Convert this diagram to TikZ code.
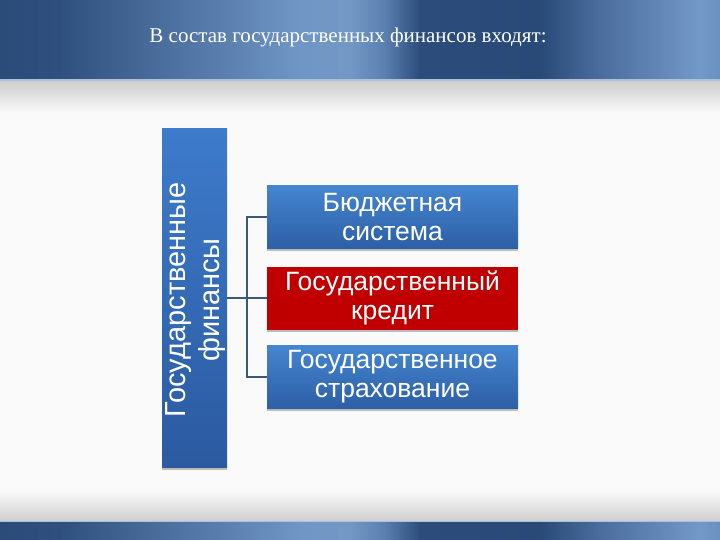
\documentclass[tikz,border=0pt]{standalone}
\usepackage{fontspec}
\setmainfont{Liberation Sans}
\newfontfamily\titlefont{Liberation Serif}
\usetikzlibrary{shadows}
\definecolor{bgc}{HTML}{FAFAFA}
\definecolor{s0}{HTML}{2B4B79}
\definecolor{s1}{HTML}{2F507F}
\definecolor{s2}{HTML}{6F96C5}
\definecolor{s3}{HTML}{7398C6}
\definecolor{s4}{HTML}{5A80B0}
\definecolor{s5}{HTML}{2C4D7C}
\definecolor{s6}{HTML}{294A77}
\definecolor{s7}{HTML}{4A6D9E}
\definecolor{s8}{HTML}{7399C8}
\definecolor{s9}{HTML}{6A90C0}
\definecolor{blueTop}{HTML}{4585D0}
\definecolor{blueBot}{HTML}{2C5FA6}
\definecolor{mainTop}{HTML}{3D7BCB}
\definecolor{mainBot}{HTML}{2B5AA0}
\definecolor{redBox}{HTML}{C00000}
\definecolor{connc}{HTML}{3A5878}
\tikzset{
  band/.pic={
    \shade[left color=s0,right color=s1] (0,0) rectangle (60,1);
    \shade[left color=s1,right color=s2] (59.5,0) rectangle (300,1);
    \shade[left color=s2,right color=s3] (299.5,0) rectangle (350,1);
    \shade[left color=s3,right color=s4] (349.5,0) rectangle (385,1);
    \shade[left color=s4,right color=s5] (384.5,0) rectangle (420,1);
    \shade[left color=s5,right color=s6] (419.5,0) rectangle (540,1);
    \shade[left color=s6,right color=s7] (539.5,0) rectangle (600,1);
    \shade[left color=s7,right color=s8] (599.5,0) rectangle (700,1);
    \shade[left color=s8,right color=s9] (699.5,0) rectangle (720,1);
  },
  boxshadow/.style={drop shadow={shadow xshift=0pt, shadow yshift=-2.5pt, opacity=0.25, fill=black}},
  childbox/.style={draw=none, minimum width=251pt, minimum height=63pt,
    inner sep=0pt, align=center, text=white,
    font=\fontsize{26.5}{29}\selectfont, boxshadow},
  bluebox/.style={childbox, top color=blueTop, bottom color=blueBot},
  redbox/.style={childbox, fill=redBox},
  mainbox/.style={draw=none, minimum width=65pt, minimum height=338pt,
    inner sep=0pt, top color=mainTop, bottom color=mainBot, boxshadow},
  maintext/.style={rotate=90, inner sep=0pt, align=center, text=white,
    font=\fontsize{29}{34}\selectfont},
  conn/.style={draw=connc, line width=1.6pt}
}
\begin{document}
\begin{tikzpicture}[x=1pt,y=-1pt]
\useasboundingbox (0,0) rectangle (720,540);
\fill[bgc] (0,0) rectangle (720,540);
% top band
\pic[yscale=80] at (0,0) {band};
\shade[top color=black!20, bottom color=bgc] (0,80) rectangle (720,113);
\fill[s3!60!white] (0,79.5) rectangle (720,81);
% bottom band
\shade[top color=bgc, bottom color=black!19] (0,490) rectangle (720,521);
\fill[s3!60!white] (0,520.5) rectangle (720,522);
\pic[yscale=18] at (0,522) {band};
% title
\node[text=white, font=\titlefont\fontsize{21}{25}\selectfont] (title) at (348,37) {В состав государственных финансов входят:};
% main box
\node[mainbox] (gf) at (194.5,298) {};
\node[maintext] (gft) at (195.5,300) {Государственные\\финансы};
% children
\node[bluebox] (b1) at (392.5,217) {Бюджетная\\система};
\node[redbox] (b2) at (392.5,298) {Государственный\\кредит};
\node[bluebox] (b3) at (392.5,377) {Государственное\\страхование};
% connectors
\coordinate (j) at (247,298);
\draw[conn] (gf.east) -- (b2.west);
\draw[conn] (b1.west) -| (j);
\draw[conn] (b3.west) -| (j);
\end{tikzpicture}
\end{document}
